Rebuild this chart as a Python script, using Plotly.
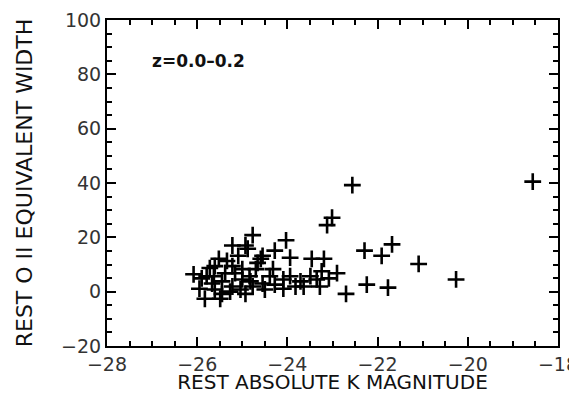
import plotly.graph_objects as go

# Rest absolute K magnitude (x) and rest [O II] equivalent width (y), z = 0.0-0.2
mag_k = [
    -26.08, -25.95, -25.83, -25.22, -24.77, -24.93, -24.88, -24.55, -24.28, -24.03,
    -23.94, -24.32, -23.46, -23.19, -22.90, -22.70, -22.29, -22.24, -21.91, -21.68,
    -23.12, -23.01, -22.56, -21.09, -21.77, -20.26, -18.56, -25.52, -25.61, -25.63,
    -25.45, -25.22, -25.00, -24.70, -24.77, -24.93, -24.55, -24.09, -23.94, -23.71,
    -23.49, -23.35, -23.24, -23.64, -24.09, -24.28, -24.66, -24.59, -25.38, -25.16,
    -25.22, -24.84, -25.00, -25.67, -25.61, -25.79, -25.45, -25.27, -25.04, -24.82,
    -24.50, -24.39, -23.82, -23.28, -23.08, -25.34, -25.09, -25.72, -25.90, -25.49,
]
ew_oii = [
    6.4, 1.1, -2.6, 17.0, 20.8, 17.0, 15.8, 13.2, 15.1, 18.9,
    12.5, 8.3, 12.1, 12.1, 6.8, -0.8, 15.1, 2.6, 13.2, 17.4,
    24.5, 27.2, 39.2, 10.2, 1.5, 4.5, 40.5, 12.1, 9.4, 5.7,
    -0.8, 1.9, 4.5, 8.3, 1.9, -0.8, 3.0, 4.5, 5.7, 3.8,
    5.7, 4.5, 7.5, 1.9, 1.1, 2.6, 10.6, 12.1, 6.8, 6.8,
    9.4, 5.7, 8.3, 3.0, 0.8, 5.7, 3.8, 0.0, 0.8, 3.8,
    0.8, 5.7, 1.9, 1.9, 4.9, 11.3, 13.2, 8.7, 4.9, -2.6,
]

x_ticks = [-28, -26, -24, -22, -20, -18]
y_ticks = [-20, 0, 20, 40, 60, 80, 100]

font_family = "DejaVu Sans"

fig = go.Figure()
fig.add_trace(go.Scatter(
    x=mag_k, y=ew_oii, mode="markers",
    marker=dict(symbol="cross-thin", size=12, color="black",
                line=dict(width=2.6, color="black")),
    showlegend=False, hoverinfo="skip",
))

fig.add_annotation(
    x=-27.05, y=85, xref="x", yref="y", text="<b>z=0.0\u20130.2</b>",
    showarrow=False, xanchor="left", yanchor="middle",
    font=dict(family=font_family, size=17, color="#111"),
)

axis_common = dict(
    showgrid=False, zeroline=False, showline=True, linecolor="black", linewidth=2,
    mirror="ticks", ticks="inside", ticklen=9, tickwidth=1.5, tickcolor="black",
    tickfont=dict(family=font_family, size=19, color="#333"),
    automargin=False, ticklabeloverflow="allow",
)

fig.update_xaxes(
    range=[-28, -18], tickvals=x_ticks,
    minor=dict(dtick=0.5, ticks="inside", ticklen=5, tickwidth=1.5, tickcolor="black"),
    title=dict(text="REST ABSOLUTE K MAGNITUDE", font=dict(family=font_family, size=20, color="#111"), standoff=3),
    **axis_common,
)
fig.update_yaxes(
    range=[-20, 100], tickvals=y_ticks,
    minor=dict(dtick=5, ticks="inside", ticklen=5, tickwidth=1.5, tickcolor="black"),
    title=dict(text="REST O II EQUIVALENT WIDTH", font=dict(family=font_family, size=22, color="#111"), standoff=22),
    **axis_common,
)

# The page adds an 8 px body margin; keep the figure small enough that no
# scrollbar appears, with the plot area where the reference has it.
fig.update_layout(
    width=569, height=386,
    margin=dict(l=99, r=19, t=12, b=48),
    plot_bgcolor="white", paper_bgcolor="white",
)

fig.write_html("out.html")
